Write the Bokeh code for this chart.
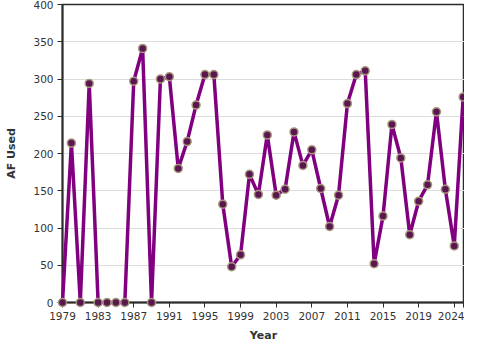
from bokeh.plotting import figure
from bokeh.models import FixedTicker, ColumnDataSource
from bokeh.embed import file_html
from bokeh.resources import INLINE

# AF used per year, 1979..2024
years = list(range(1979, 2025))
af_used = [0, 214, 0, 294, 0, 0, 0, 0, 297, 341,
           0, 300, 303, 180, 216, 265, 306, 306, 132, 48,
           64, 172, 145, 225, 144, 152, 229, 184, 205, 153,
           102, 144, 267, 306, 311, 52, 116, 239, 194, 91,
           136, 158, 256, 152, 76, 276]
x_ticks = [1979, 1983, 1987, 1991, 1995, 1999, 2003, 2007, 2011, 2015, 2019, 2023, 2024]
y_ticks = [0, 50, 100, 150, 200, 250, 300, 350, 400]

src = ColumnDataSource(dict(x=years, y=af_used))

p = figure(width=464, height=344, output_backend="svg", toolbar_location=None,
           x_range=(1979, 2024.15), y_range=(0, 400),
           min_border_left=62, min_border_right=0, min_border_top=4, min_border_bottom=40)
p.background_fill_color = "white"
p.border_fill_color = "white"
p.outline_line_color = "#2b2b2b"
p.outline_line_width = 1.5

p.xgrid.visible = False
p.ygrid.grid_line_color = "#dddddd"
p.ygrid.grid_line_width = 1

p.xaxis.ticker = FixedTicker(ticks=x_ticks)
p.xaxis.major_label_overrides = {2023: ""}
p.yaxis.ticker = FixedTicker(ticks=y_ticks)

for ax in (p.xaxis[0], p.yaxis[0]):
    ax.axis_line_color = "#2b2b2b"
    ax.axis_line_width = 2
    ax.major_tick_line_color = "#2b2b2b"
    ax.major_tick_line_width = 1
    ax.major_tick_out = 5
    ax.major_tick_in = 0
    ax.minor_tick_line_color = None
    ax.major_label_text_font = "DejaVu Sans"
    ax.major_label_text_font_size = "10.5px"
    ax.major_label_text_color = "#333333"
    ax.axis_label_text_font = "DejaVu Sans"
    ax.axis_label_text_font_size = "11px"
    ax.axis_label_text_font_style = "bold"
    ax.axis_label_text_color = "#333333"

p.xaxis.axis_label = "Year"
p.yaxis.axis_label = "AF Used"
p.xaxis.major_label_standoff = 4
p.xaxis.axis_label_standoff = 6
p.yaxis.major_label_standoff = 4
p.yaxis.axis_label_standoff = 12

line = p.line("x", "y", source=src, line_color="#800080", line_width=3.5)
pts = p.scatter("x", "y", source=src, size=8, fill_color="#5a1650",
                line_color="#a6977a", line_width=1.5)
line.level = "overlay"
pts.level = "overlay"

open("out.html", "w").write(file_html(p, INLINE))
